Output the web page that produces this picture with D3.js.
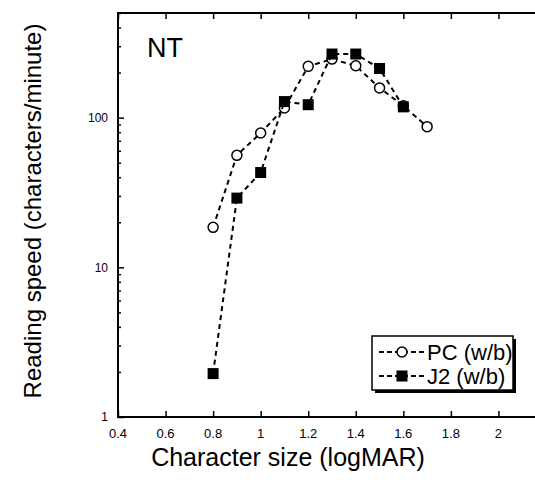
<!DOCTYPE html>
<html>
<head>
<meta charset="utf-8">
<script src="https://cdn.jsdelivr.net/npm/d3@7"></script>
<style>
  html, body { margin: 0; padding: 0; background: #fff; overflow: hidden; }
  svg { display: block; }
  text { font-family: "Liberation Sans", Arial, sans-serif; fill: #000; }
</style>
</head>
<body>
<div id="chart"></div>
<script>
// character size (logMAR)
var pcSize = [0.8, 0.9, 1.0, 1.1, 1.2, 1.3, 1.4, 1.5, 1.6, 1.7];
// reading speed, PC (w/b)
var pcSpeed = [18.5, 56, 79, 116, 220, 246, 222, 158, 120, 87];

var j2Size = [0.8, 0.9, 1.0, 1.1, 1.2, 1.3, 1.4, 1.5, 1.6];
// reading speed, J2 (w/b)
var j2Speed = [1.95, 29, 43, 128, 122, 266, 266, 213, 118];

var xTicks = [0.4, 0.6, 0.8, 1.0, 1.2, 1.4, 1.6, 1.8, 2.0, 2.2];
var yMajor = [1, 10, 100];
var legendNames = ['PC (w/b)', 'J2 (w/b)'];

var W = 535, H = 490;

var svg = d3.select('#chart')
    .append('svg')
    .attr('width', W)
    .attr('height', H);

var x = d3.scaleLinear()
    .domain([0.4, 2.2])
    .range([118, 546]);

var y = d3.scaleLog()
    .domain([1, 500])
    .range([417, 13]);

// frame: left, bottom, top (right side runs off the page)
svg.append('path')
    .attr('d', 'M' + W + ',' + y(500) + 'H' + x(0.4) + 'V' + y(1) + 'H' + W)
    .attr('fill', 'none')
    .attr('stroke', 'black')
    .attr('stroke-width', 2);

// bottom axis, ticks pointing in
var xFmt = function (d) { return d3.format('.1f')(d).replace(/\.0$/, ''); };

svg.append('g')
    .attr('transform', 'translate(0,' + y(1) + ')')
    .call(d3.axisTop(x).tickValues(xTicks).tickSize(6).tickFormat(''))
    .call(function (g) { g.select('.domain').remove(); })
    .selectAll('line').attr('stroke-width', 1.5);

svg.append('g')
    .selectAll('text')
    .data(xTicks.filter(function (d) { return d < 2.1; }))
    .join('text')
    .attr('x', function (d) { return x(d); })
    .attr('y', y(1) + 21)
    .attr('text-anchor', 'middle')
    .attr('font-size', 13)
    .text(xFmt);

// top ticks
svg.append('g')
    .attr('transform', 'translate(0,' + y(500) + ')')
    .call(d3.axisBottom(x).tickValues(xTicks).tickSize(6).tickFormat(''))
    .call(function (g) { g.select('.domain').remove(); })
    .selectAll('line').attr('stroke-width', 1.5);

// left axis: minor and major log ticks
var yMinor = [];
[1, 10, 100].forEach(function (dec) {
    for (var k = 2; k <= 9; k++) {
        if (dec * k <= 500) yMinor.push(dec * k);
    }
});

svg.append('g')
    .attr('transform', 'translate(' + x(0.4) + ',0)')
    .call(d3.axisRight(y).tickValues(yMinor).tickSize(3).tickFormat(''))
    .call(function (g) { g.select('.domain').remove(); })
    .selectAll('line').attr('stroke-width', 1.5);

svg.append('g')
    .attr('transform', 'translate(' + x(0.4) + ',0)')
    .call(d3.axisRight(y).tickValues(yMajor).tickSize(6).tickFormat(''))
    .call(function (g) { g.select('.domain').remove(); })
    .selectAll('line').attr('stroke-width', 1.5);

svg.append('g')
    .selectAll('text')
    .data(yMajor)
    .join('text')
    .attr('x', x(0.4) - 10)
    .attr('y', function (d) { return y(d); })
    .attr('dy', '0.35em')
    .attr('text-anchor', 'end')
    .attr('font-size', 12)
    .text(function (d) { return d; });

// axis titles
svg.append('text')
    .attr('x', 288)
    .attr('y', 466)
    .attr('text-anchor', 'middle')
    .attr('font-size', 25)
    .text('Character size (logMAR)');

svg.append('text')
    .attr('transform', 'translate(41,211) rotate(-90)')
    .attr('text-anchor', 'middle')
    .attr('font-size', 24)
    .text('Reading speed (characters/minute)');

// panel label
svg.append('text')
    .attr('x', 147)
    .attr('y', 57)
    .attr('font-size', 27)
    .text('NT');

var line = d3.line()
    .x(function (d) { return x(d[0]); })
    .y(function (d) { return y(d[1]); });

var pcData = d3.zip(pcSize, pcSpeed);
var j2Data = d3.zip(j2Size, j2Speed);

// PC series
svg.append('path')
    .datum(pcData)
    .attr('d', line)
    .attr('fill', 'none')
    .attr('stroke', 'black')
    .attr('stroke-width', 2)
    .attr('stroke-dasharray', '5,4');

svg.append('g')
    .selectAll('circle')
    .data(pcData)
    .join('circle')
    .attr('cx', function (d) { return x(d[0]); })
    .attr('cy', function (d) { return y(d[1]); })
    .attr('r', 5)
    .attr('fill', 'white')
    .attr('stroke', 'black')
    .attr('stroke-width', 1.5);

// J2 series
svg.append('path')
    .datum(j2Data)
    .attr('d', line)
    .attr('fill', 'none')
    .attr('stroke', 'black')
    .attr('stroke-width', 2)
    .attr('stroke-dasharray', '5,4');

svg.append('g')
    .selectAll('rect')
    .data(j2Data)
    .join('rect')
    .attr('x', function (d) { return x(d[0]) - 5.5; })
    .attr('y', function (d) { return y(d[1]) - 5.5; })
    .attr('width', 11)
    .attr('height', 11)
    .attr('fill', 'black');

// legend box with drop shadow
var lg = svg.append('g').attr('transform', 'translate(372,336)');

lg.append('rect')
    .attr('x', 3)
    .attr('y', 3)
    .attr('width', 141)
    .attr('height', 54)
    .attr('fill', 'black');

lg.append('rect')
    .attr('x', 0)
    .attr('y', 0)
    .attr('width', 141)
    .attr('height', 54)
    .attr('fill', 'white')
    .attr('stroke', 'black')
    .attr('stroke-width', 1.5);

legendNames.forEach(function (name, i) {
    var ly = 16 + i * 24;
    lg.append('line')
        .attr('x1', 7)
        .attr('x2', 54)
        .attr('y1', ly)
        .attr('y2', ly)
        .attr('stroke', 'black')
        .attr('stroke-width', 2)
        .attr('stroke-dasharray', '5,3');
    if (i === 0) {
        lg.append('circle')
            .attr('cx', 30)
            .attr('cy', ly)
            .attr('r', 5)
            .attr('fill', 'white')
            .attr('stroke', 'black')
            .attr('stroke-width', 1.5);
    } else {
        lg.append('rect')
            .attr('x', 24.5)
            .attr('y', ly - 5.5)
            .attr('width', 11)
            .attr('height', 11)
            .attr('fill', 'black');
    }
    lg.append('text')
        .attr('x', 55)
        .attr('y', ly)
        .attr('dy', '0.36em')
        .attr('font-size', 22)
        .text(name);
});
</script>
</body>
</html>
